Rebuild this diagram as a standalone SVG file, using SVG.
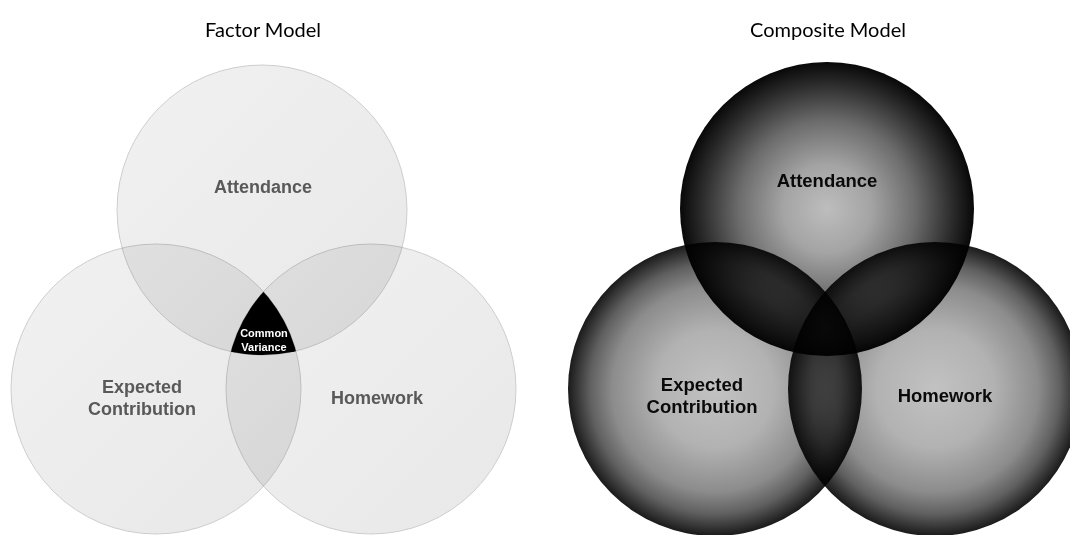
<svg xmlns="http://www.w3.org/2000/svg" width="1070" height="535" viewBox="0 0 1070 535">
  <defs>
    <style>
      .title { font-family: Lato, "Liberation Sans", sans-serif; font-size: 20px; fill: #000; text-anchor: middle; }
      .lbl-f { font-family: "Liberation Sans", Arial, sans-serif; font-weight: bold; font-size: 18px; fill: #595959; text-anchor: middle; }
      .lbl-c { font-family: "Liberation Sans", Arial, sans-serif; font-weight: bold; font-size: 18.5px; fill: #0a0a0a; text-anchor: middle; }
      .lbl-cv { font-family: "Liberation Sans", Arial, sans-serif; font-weight: bold; font-size: 11px; fill: #ffffff; text-anchor: middle; }
      .fcircle { fill: url(#gFactor); stroke: #cdcdcd; stroke-width: 1; mix-blend-mode: multiply; }
      .ccircle { mix-blend-mode: multiply; }
    </style>
    <linearGradient id="gFactor" x1="0" y1="0" x2="1" y2="1">
      <stop offset="0" stop-color="#f1f1f1"/>
      <stop offset="1" stop-color="#e8e8e8"/>
    </linearGradient>
    <radialGradient id="gTop" cx="0.5" cy="0.5" r="0.5">
      <stop offset="0" stop-color="#bdbdbd"/>
      <stop offset="0.3" stop-color="#a4a4a4"/>
      <stop offset="0.6" stop-color="#6c6c6c"/>
      <stop offset="0.85" stop-color="#2c2c2c"/>
      <stop offset="1" stop-color="#080808"/>
    </radialGradient>
    <radialGradient id="gSide" cx="0.5" cy="0.5" r="0.5">
      <stop offset="0" stop-color="#c2c2c2"/>
      <stop offset="0.4" stop-color="#b2b2b2"/>
      <stop offset="0.7" stop-color="#8c8c8c"/>
      <stop offset="0.85" stop-color="#606060"/>
      <stop offset="1" stop-color="#1a1a1a"/>
    </radialGradient>
    <clipPath id="clipB"><circle cx="156" cy="389" r="145"/></clipPath>
    <clipPath id="clipC"><circle cx="371" cy="389" r="145"/></clipPath>
  </defs>

  <rect x="0" y="0" width="1070" height="535" fill="#ffffff"/>

  <g id="titles">
    <text class="title" x="263" y="37">Factor Model</text>
    <text class="title" x="828" y="37">Composite Model</text>
  </g>

  <!-- Factor Model -->
  <g id="factor-model">
    <g id="factor-attendance">
      <circle class="fcircle" cx="262" cy="210" r="145"/>
      <text class="lbl-f" x="263" y="193">Attendance</text>
    </g>
    <g id="factor-expected-contribution">
      <circle class="fcircle" cx="156" cy="389" r="145"/>
      <text class="lbl-f" x="142" y="393">Expected</text>
      <text class="lbl-f" x="142" y="415">Contribution</text>
    </g>
    <g id="factor-homework">
      <circle class="fcircle" cx="371" cy="389" r="145"/>
      <text class="lbl-f" x="377" y="404">Homework</text>
    </g>
    <g id="factor-common-variance">
      <g clip-path="url(#clipB)">
        <circle cx="262" cy="210" r="145" fill="#000000" clip-path="url(#clipC)"/>
      </g>
      <text class="lbl-cv" x="264" y="337">Common</text>
      <text class="lbl-cv" x="264" y="351">Variance</text>
    </g>
  </g>

  <!-- Composite Model -->
  <g id="composite-model">
    <g id="composite-expected-contribution">
      <circle class="ccircle" cx="715" cy="389" r="147" fill="url(#gSide)"/>
    </g>
    <g id="composite-homework">
      <circle class="ccircle" cx="935" cy="389" r="147" fill="url(#gSide)"/>
    </g>
    <g id="composite-attendance">
      <circle class="ccircle" cx="827" cy="209" r="147" fill="url(#gTop)"/>
    </g>
    <g id="composite-labels">
      <text class="lbl-c" x="827" y="187">Attendance</text>
      <text class="lbl-c" x="702" y="391">Expected</text>
      <text class="lbl-c" x="702" y="413">Contribution</text>
      <text class="lbl-c" x="945" y="402">Homework</text>
    </g>
  </g>
</svg>
